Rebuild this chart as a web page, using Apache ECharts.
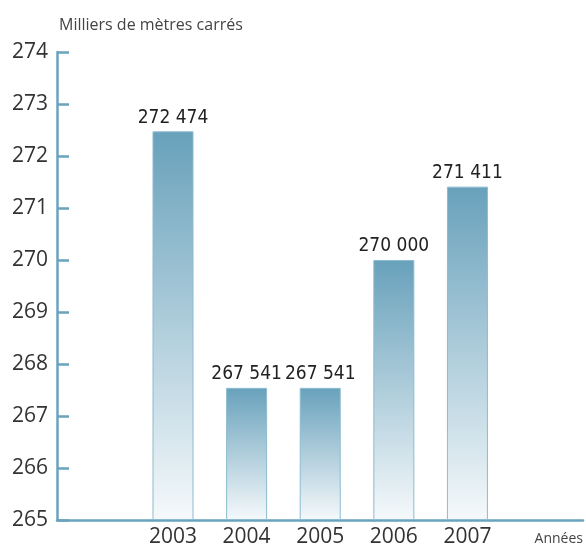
<!DOCTYPE html>
<html>
<head>
<meta charset="utf-8">
<script src="https://cdn.jsdelivr.net/npm/echarts@6/dist/echarts.min.js"></script>
<style>html,body{margin:0;padding:0;background:#fff}#c{width:586px;height:548px}</style>
</head>
<body>
<div id="c"></div>
<script>
const years = [2003, 2004, 2005, 2006, 2007];
const values = [272.474, 267.541, 267.541, 270.000, 271.411];
const yTicks = [265, 266, 267, 268, 269, 270, 271, 272, 273, 274];

const axisColor = '#6aa3bd';
const chart = echarts.init(document.getElementById('c'), null, {renderer: 'canvas'});

function fmt(v) {
  const n = Math.round(v * 1000);
  const s = String(n);
  return s.slice(0, s.length - 3) + ' ' + s.slice(-3);
}

chart.setOption({
  animation: false,
  title: {
    text: 'Milliers de mètres carrés',
    left: 54, top: 12,
    textStyle: {fontFamily: 'Open Sans', fontSize: 16, fontWeight: 'normal', color: '#444'}
  },
  grid: {left: 57, right: 1, top: 52, bottom: 24},
  xAxis: {
    type: 'value',
    min: 2001.424, max: 2008.57,
    name: 'Années',
    nameLocation: 'end',
    nameGap: 0,
    nameTextStyle: {fontFamily: 'Open Sans', fontSize: 14, color: '#444', align: 'right', verticalAlign: 'top', padding: [12, 0, 0, 0]},
    axisLine: {show: true, onZero: false, lineStyle: {color: axisColor, width: 2.5}},
    axisTick: {show: false},
    splitLine: {show: false},
    axisLabel: {
      customValues: years,
      margin: 7,
      fontFamily: 'Open Sans', fontSize: 21, color: '#333',
      formatter: v => String(v)
    }
  },
  yAxis: {
    type: 'value',
    min: 265, max: 274, interval: 1,
    startValue: 265,
    axisLine: {show: true, onZero: false, lineStyle: {color: axisColor, width: 2.5}},
    axisTick: {show: true, inside: true, length: 12, lineStyle: {color: axisColor, width: 2.5}},
    splitLine: {show: false},
    axisLabel: {margin: 9, fontFamily: 'Open Sans', fontSize: 21, color: '#333'}
  },
  series: [{
    type: 'bar',
    barWidth: 41,
    data: years.map((y, i) => [y, values[i]]),
    itemStyle: {
      color: new echarts.graphic.LinearGradient(0, 0, 0, 1, [
        {offset: 0, color: '#68a1bb'},
        {offset: 1, color: '#f5f9fb'}
      ]),
      borderColor: '#8cbbd1',
      borderWidth: 1
    },
    label: {
      show: true, position: 'top', distance: 4,
      fontFamily: '"DejaVu Sans Condensed", "Roboto", sans-serif', fontSize: 19, color: '#222',
      formatter: p => fmt(p.value[1])
    }
  }]
});
</script>
</body>
</html>
